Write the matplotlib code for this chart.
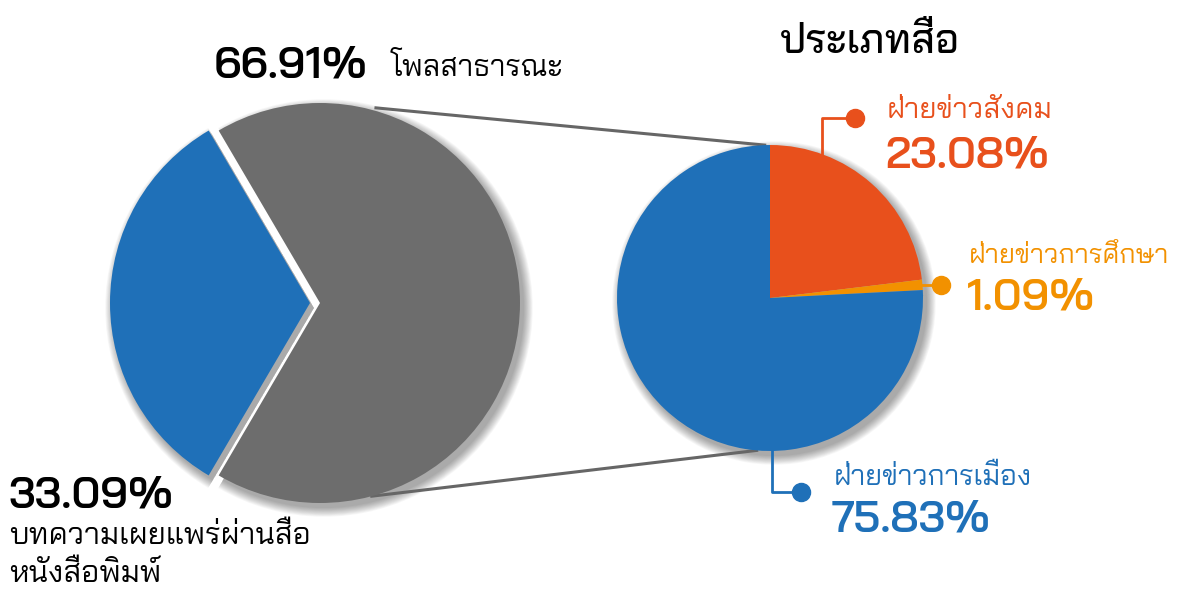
import numpy as np
import matplotlib
matplotlib.use('Agg')
import matplotlib.pyplot as plt
from matplotlib.patches import Wedge

# data
left_labels = ['โพลสาธารณะ', 'บทความเผยแพร่ผ่านสื่อ', 'หนังสือพิมพ์']
left_values = [66.91, 33.09]
right_title = 'ประเภทสื่อ'
right_labels = ['ฝ่ายข่าวสังคม', 'ฝ่ายข่าวการศึกษา', 'ฝ่ายข่าวการเมือง']
right_values = [23.08, 1.09, 75.83]

GRAY = '#6d6d6d'
BLUE = '#1f70b8'
RED = '#e8501c'
ORANGE = '#f29100'

plt.rcParams['font.family'] = ['Bai Jamjuree', 'DejaVu Sans']

W, H = 1184, 589
fig = plt.figure(figsize=(W / 100, H / 100), dpi=100)
ax = fig.add_axes([0, 0, 1, 1])


def Y(y):
    return H - y


def add_shadow(wedges, dx=4, dy=-5, steps=12):
    # fake soft drop shadow: stacked translucent wedges
    for w in wedges:
        cx, cy = w.center
        for k in range(steps):
            s = Wedge((cx + dx, cy + dy), w.r + k * 0.8, w.theta1, w.theta2,
                      facecolor='black', edgecolor='none', alpha=0.03, zorder=1)
            ax.add_patch(s)


# left pie, blue slice pulled out
lc, lr = (320, Y(303)), 200
start_left = -left_values[0] / 100 * 360 / 2
lw, _ = ax.pie(left_values, colors=[GRAY, BLUE], startangle=start_left,
               explode=[0, 10], center=lc, radius=lr,
               wedgeprops=dict(linewidth=0, zorder=3))
add_shadow(lw)

# right pie
rc, rr = (770, Y(298)), 153
rw, _ = ax.pie(right_values, colors=[RED, ORANGE, BLUE], startangle=90,
               counterclock=False, center=rc, radius=rr,
               wedgeprops=dict(linewidth=0, zorder=3))
add_shadow(rw)

ax.set_xlim(0, W)
ax.set_ylim(0, H)
ax.set_aspect('equal')
ax.axis('off')


def on_circle(c, r, ang):
    a = np.deg2rad(ang)
    return c[0] + r * np.cos(a), c[1] + r * np.sin(a)


# connector lines from the gray slice to the right pie
p1 = on_circle(lc, lr + 3, 74)
q1 = on_circle(rc, rr, 92)
p2 = on_circle(lc, lr, -75)
q2 = on_circle(rc, rr, -95)
for p, q in [(p1, q1), (p2, q2)]:
    ax.plot([p[0], q[0]], [p[1], q[1]], color='#666666', lw=2.2, zorder=2)

# leader lines
a = on_circle(rc, rr, 70)
ax.plot([a[0], a[0], 855], [a[1], Y(118), Y(118)], color=RED, lw=2, zorder=4)
ax.plot(855, Y(118), 'o', color=RED, ms=13, zorder=4)

mid_or = 90 - (right_values[0] + right_values[1] / 2) * 3.6
a = on_circle(rc, rr, mid_or)
ax.plot([a[0], 941], [a[1], a[1]], color=ORANGE, lw=2, zorder=4)
ax.plot(941, a[1], 'o', color=ORANGE, ms=13, zorder=4)

a = on_circle(rc, rr, -89.2)
ax.plot([a[0], a[0], 801], [a[1], Y(492), Y(492)], color=BLUE, lw=2, zorder=4)
ax.plot(801, Y(492), 'o', color=BLUE, ms=13, zorder=4)


def pct(x, y, v, color):
    ax.text(x, Y(y), f'{v:.2f}%', fontsize=31.5, fontweight=600,
            color=color, va='baseline', ha='left')


def label(x, y, s, color, size=19.5):
    ax.text(x, Y(y), s, fontsize=size, color=color, va='baseline', ha='left')


# texts
pct(214, 77, left_values[0], 'black')
label(391, 76, left_labels[0], 'black', 21.5)

pct(8, 507, left_values[1], 'black')
label(9, 544, left_labels[1], 'black', 22)
label(9, 582, left_labels[2], 'black', 22)

ax.text(780, Y(53), right_title, fontsize=29, fontweight=500, color='black',
        va='baseline', ha='left')

label(887, 118, right_labels[0], RED, 21)
pct(885, 167, right_values[0], RED)

label(969, 263, right_labels[1], ORANGE)
pct(967, 310, right_values[1], ORANGE)

label(834, 485, right_labels[2], BLUE, 20.5)
pct(832, 532, right_values[2], BLUE)

fig.savefig('out.png', dpi=100)
